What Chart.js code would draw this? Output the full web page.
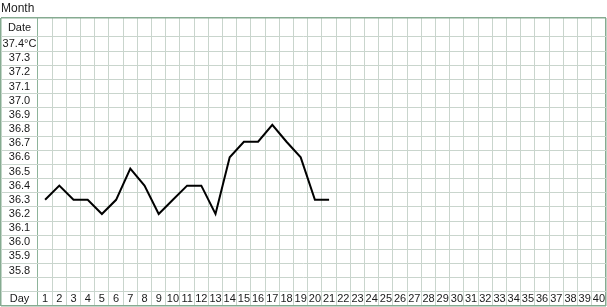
<!DOCTYPE html>
<html>
<head>
<meta charset="utf-8">
<script src="https://cdn.jsdelivr.net/npm/chart.js@4/dist/chart.umd.min.js"></script>
<style>
  html, body { margin: 0; padding: 0; background: #ffffff; }
  #wrap { width: 607px; height: 307px; }
</style>
</head>
<body>
<div id="wrap"><canvas id="c" width="607" height="307"></canvas></div>
<script>
// ---- data ----
const days = [1,2,3,4,5,6,7,8,9,10,11,12,13,14,15,16,17,18,19,20,21];
const temps = [36.3,36.4,36.3,36.3,36.2,36.3,36.52,36.4,36.2,36.3,36.4,36.4,36.2,36.6,36.71,36.71,36.83,36.71,36.6,36.3,36.3];
const dayColumns = [1,2,3,4,5,6,7,8,9,10,11,12,13,14,15,16,17,18,19,20,21,22,23,24,25,26,27,28,29,30,31,32,33,34,35,36,37,38,39,40];
const tempRows = [37.4,37.3,37.2,37.1,37.0,36.9,36.8,36.7,36.6,36.5,36.4,36.3,36.2,36.1,36.0,35.9,35.8];
const titleText = 'Month';
const dateLabel = 'Date';
const dayLabel = 'Day';
const unitSuffix = '°C';

// ---- layout geometry (table grid) ----
const FONT = "'Liberation Sans', Arial, sans-serif";
const X_MIN = -2.1056, X_MAX = 40.5;
const Y_MIN = 35.55, Y_MAX = 37.584;
const DATE_POS = 37.517, EMPTY_POS = 35.7, DAY_POS = 35.6;
const GRID = '#c9d5cd', EDGE = '#86ab91', SEP = '#8db49a';

const xGrid = [X_MIN];
for (let i = 0; i <= 40; i++) xGrid.push(0.5 + i);
const yGrid = [];
for (let i = 0; i <= 19; i++) yGrid.push((3555 + 10 * i) / 100);
yGrid.push(Y_MAX);

const rowTicks = [DAY_POS, EMPTY_POS].concat(tempRows.slice().reverse()).concat([DATE_POS]);
function rowLabel(v) {
  if (Math.abs(v - DATE_POS) < 1e-6) return dateLabel;
  if (Math.abs(v - DAY_POS) < 1e-6) return dayLabel;
  if (Math.abs(v - EMPTY_POS) < 1e-6) return '';
  const s = v.toFixed(1);
  return Math.abs(v - tempRows[0]) < 1e-6 ? s + unitSuffix : s;
}

const mctx = document.createElement('canvas').getContext('2d');
mctx.font = "11px " + FONT;
let widest = 0;
rowTicks.forEach(v => { widest = Math.max(widest, mctx.measureText(rowLabel(v)).width); });
const labelColCenter = 19.5 - 1;
const rowPad = labelColCenter - widest / 2;

const noPad = s => { s.paddingLeft = 0; s.paddingRight = 0; s.paddingTop = 0; s.paddingBottom = 0; };
const zeroWidth = s => { noPad(s); s.width = 0; };
const zeroHeight = s => { noPad(s); s.height = 0; };

const points = days.map((d, i) => ({x: d, y: temps[i]}));

new Chart(document.getElementById('c'), {
  type: 'line',
  data: {
    datasets: [{
      data: points,
      xAxisID: 'x',
      yAxisID: 'y',
      borderColor: '#000000',
      borderWidth: 2,
      pointRadius: 0,
      pointHoverRadius: 0,
      tension: 0,
      fill: false
    }]
  },
  options: {
    responsive: false,
    animation: false,
    events: [],
    layout: { padding: { left: 1, right: 1, top: 0, bottom: 1 } },
    plugins: {
      legend: { display: false },
      tooltip: { enabled: false },
      title: {
        display: true,
        text: titleText,
        align: 'start',
        color: '#222222',
        font: { family: FONT, size: 12, weight: 'normal' },
        padding: { top: 1, bottom: 2.6 }
      }
    },
    scales: {
      x: {
        type: 'linear', position: 'bottom', min: X_MIN, max: X_MAX, bounds: 'data',
        afterBuildTicks: s => { s.ticks = xGrid.map(v => ({value: v})); },
        afterFit: zeroHeight,
        ticks: { display: false },
        border: { display: false },
        grid: {
          drawTicks: false,
          color: ctx => {
            const v = ctx.tick ? ctx.tick.value : 0;
            if (Math.abs(v - X_MIN) < 1e-6 || Math.abs(v - X_MAX) < 1e-6) return EDGE;
            if (Math.abs(v - 0.5) < 1e-6) return SEP;
            return GRID;
          },
          lineWidth: ctx => {
            const v = ctx.tick ? ctx.tick.value : 0;
            if (Math.abs(v - X_MIN) < 1e-6 || Math.abs(v - X_MAX) < 1e-6) return 1.5;
            return 1;
          }
        }
      },
      y: {
        type: 'linear', position: 'left', min: Y_MIN, max: Y_MAX, bounds: 'data',
        afterBuildTicks: s => { s.ticks = yGrid.map(v => ({value: v})); },
        afterFit: zeroWidth,
        ticks: { display: false },
        border: { display: false },
        grid: {
          drawTicks: false,
          color: ctx => {
            const v = ctx.tick ? ctx.tick.value : 0;
            if (Math.abs(v - Y_MIN) < 1e-6 || Math.abs(v - Y_MAX) < 1e-6) return EDGE;
            return GRID;
          },
          lineWidth: ctx => {
            const v = ctx.tick ? ctx.tick.value : 0;
            if (Math.abs(v - Y_MIN) < 1e-6 || Math.abs(v - Y_MAX) < 1e-6) return 1.5;
            return 1;
          }
        }
      },
      yl: {
        type: 'linear', position: 'left', weight: 1, min: Y_MIN, max: Y_MAX, bounds: 'data',
        afterBuildTicks: s => { s.ticks = rowTicks.map(v => ({value: v})); },
        afterFit: zeroWidth,
        grid: { display: false, drawTicks: false },
        border: { display: false },
        ticks: {
          mirror: true,
          crossAlign: 'center',
          padding: rowPad,
          autoSkip: false,
          color: '#1a1a1a',
          font: { family: FONT, size: 11 },
          callback: v => rowLabel(v)
        }
      },
      xl: {
        type: 'linear', position: 'bottom', weight: 1, min: X_MIN, max: X_MAX, bounds: 'data',
        afterBuildTicks: s => { s.ticks = dayColumns.map(v => ({value: v})); },
        afterFit: zeroHeight,
        grid: { display: false, drawTicks: false },
        border: { display: false },
        ticks: {
          mirror: true,
          padding: 0,
          autoSkip: false,
          maxRotation: 0,
          minRotation: 0,
          color: '#1a1a1a',
          font: { family: FONT, size: 11 },
          callback: v => String(v)
        }
      }
    }
  }
});
</script>
</body>
</html>
